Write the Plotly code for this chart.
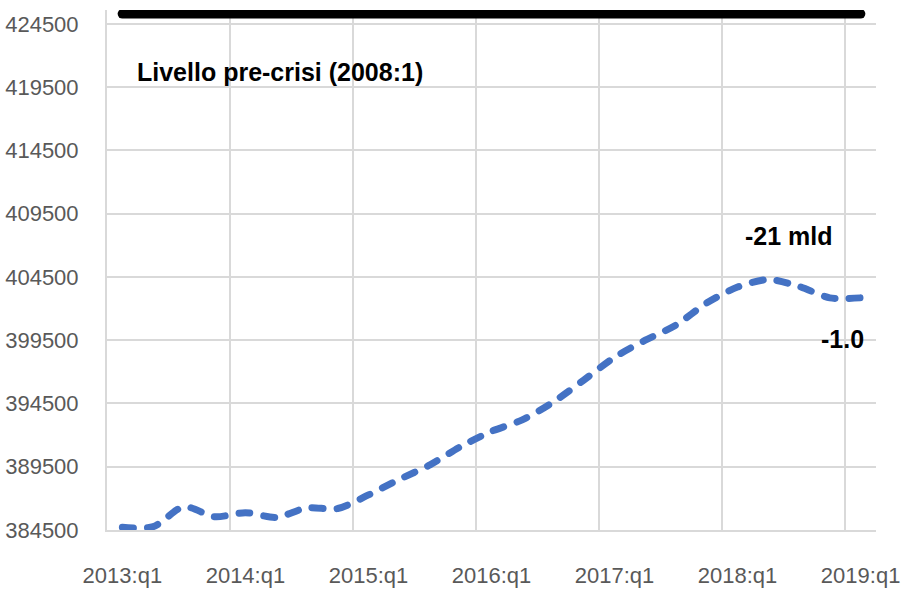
import plotly.graph_objects as go

quarters = [
    "2013:q1", "2013:q2", "2013:q3", "2013:q4",
    "2014:q1", "2014:q2", "2014:q3", "2014:q4",
    "2015:q1", "2015:q2", "2015:q3", "2015:q4",
    "2016:q1", "2016:q2", "2016:q3", "2016:q4",
    "2017:q1", "2017:q2", "2017:q3", "2017:q4",
    "2018:q1", "2018:q2", "2018:q3", "2018:q4",
    "2019:q1",
]
level = [
    384710, 384760, 386340, 385550,
    385870, 385500, 386250, 386200,
    387270, 388500, 389650, 391100,
    392300, 393200, 394600, 396350,
    398150, 399500, 400700, 402450,
    403700, 404300, 403750, 402850,
    402850,
]
pre_crisis_value = 425300
pre_crisis = [pre_crisis_value] * len(quarters)

y_ticks = [384500, 389500, 394500, 399500, 404500, 409500, 414500, 419500, 424500]
x_tick_labels = ["2013:q1", "2014:q1", "2015:q1", "2016:q1", "2017:q1", "2018:q1", "2019:q1"]

xs = list(range(len(quarters)))
tick_pos = [quarters.index(t) for t in x_tick_labels]
grid_pos = [p - 0.5 for p in tick_pos]

FONT = "Liberation Sans, Arial, sans-serif"
GRID = "#d9d9d9"
XR = [-0.5, len(quarters) - 0.5]

fig = go.Figure()
# invisible trace to activate the secondary x axis carrying the band-boundary gridlines
fig.add_trace(go.Scatter(x=[0], y=[level[0]], xaxis="x2", mode="markers",
                         marker=dict(opacity=0), hoverinfo="skip", showlegend=False))
fig.add_trace(go.Scatter(
    x=xs, y=pre_crisis, mode="lines",
    line=dict(color="black", width=9.5), hoverinfo="skip", showlegend=False,
))
fig.add_trace(go.Scatter(
    x=xs, y=level, mode="lines",
    line=dict(color="#4472C4", width=7, dash="11px,14px", shape="spline", smoothing=0.8),
    hoverinfo="skip", showlegend=False,
))

fig.update_layout(
    width=902, height=591,
    margin=dict(l=107, r=26, t=10, b=61, autoexpand=False),
    paper_bgcolor="white", plot_bgcolor="white",
    font=dict(family=FONT, color="#595959", size=22),
    xaxis=dict(
        range=XR, automargin=False,
        tickmode="array", tickvals=tick_pos, ticktext=x_tick_labels,
        showgrid=False, zeroline=False,
        showline=True, linecolor=GRID, linewidth=2,
        ticks="", ticklabelstandoff=25, ticklabeloverflow="allow",
        tickfont=dict(family=FONT, size=22, color="#595959"),
    ),
    xaxis2=dict(
        overlaying="x", range=XR, automargin=False,
        tickmode="array", tickvals=grid_pos, showticklabels=False,
        showgrid=True, gridcolor=GRID, gridwidth=2, zeroline=False, ticks="",
    ),
    yaxis=dict(
        range=[384500, 425600], automargin=False,
        tickmode="array", tickvals=y_ticks, ticktext=[str(v) for v in y_ticks],
        showgrid=True, gridcolor=GRID, gridwidth=2, zeroline=False,
        showline=True, linecolor=GRID, linewidth=2,
        ticks="", ticklabelstandoff=22,
        tickfont=dict(family=FONT, size=22, color="#595959"),
    ),
    annotations=[
        dict(text="<b>Livello pre-crisi (2008:1)</b>", xref="paper", yref="paper",
             x=0.036, y=0.881, xanchor="left", yanchor="middle", showarrow=False,
             font=dict(family=FONT, size=25, color="black")),
        dict(text="<b>-21 mld</b>", xref="paper", yref="paper",
             x=0.887, y=0.565, xanchor="center", yanchor="middle", showarrow=False,
             font=dict(family=FONT, size=25, color="black")),
        dict(text="<b>-1.0</b>", xref="paper", yref="paper",
             x=0.956, y=0.367, xanchor="center", yanchor="middle", showarrow=False,
             font=dict(family=FONT, size=25, color="black")),
    ],
)

post = ("document.body.style.margin='0';document.body.style.padding='0';"
        "document.body.style.overflow='hidden';"
        "document.querySelectorAll('.scatterlayer .js-line').forEach(function(p){"
        "p.style.strokeLinecap='round';});")
fig.write_html("out.html", post_script=post, config={"displayModeBar": False})
